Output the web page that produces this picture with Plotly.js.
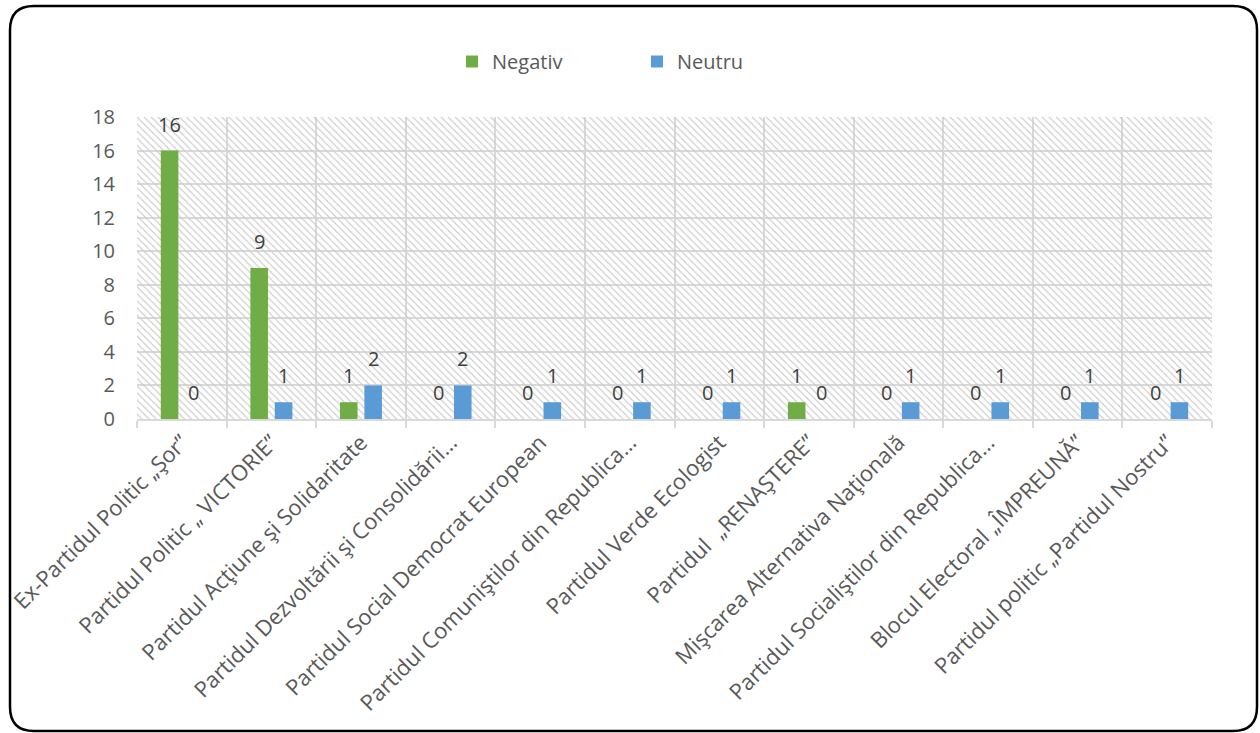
<!DOCTYPE html>
<html>
<head>
<meta charset="utf-8">
<script src="https://cdn.plot.ly/plotly-3.0.1.min.js"></script>
<style>
html,body{margin:0;padding:0;background:#fff;}
#chart{width:1260px;height:733px;}
</style>
</head>
<body>
<div id="chart"></div>
<script>
// ---- data ----
const categories = [
  "Ex-Partidul Politic „Şor”",
  "Partidul Politic „ VICTORIE”",
  "Partidul Acţiune şi Solidaritate",
  "Partidul Dezvoltării şi Consolidării…",
  "Partidul Social Democrat European",
  "Partidul Comuniştilor din Republica…",
  "Partidul Verde Ecologist",
  "Partidul  „RENAŞTERE”",
  "Mişcarea Alternativa Naţională",
  "Partidul Socialiştilor din Republica…",
  "Blocul Electoral „ÎMPREUNĂ”",
  "Partidul politic „Partidul Nostru”"
];
const negativ = [16, 9, 1, 0, 0, 0, 0, 1, 0, 0, 0, 0];
const neutru  = [0, 1, 2, 2, 1, 1, 1, 0, 1, 1, 1, 1];
const seriesNames = ["Negativ", "Neutru"];
const yTicks = [0, 2, 4, 6, 8, 10, 12, 14, 16, 18];

// ---- layout geometry ----
const W = 1260, H = 733;
const M = {l: 137, r: 48, t: 117, b: 314};
const pw = W - M.l - M.r, ph = H - M.t - M.b;
const px = x => (x - M.l) / pw;
const py = y => (H - M.b - y) / ph;

const GREEN = "#70AD47", BLUE = "#5B9BD5";
const TXT = "#595959", GRID = "#d9d9d9";

// hatch background (drawn on hidden base axes)
const hatch = {
  type: "bar", x: [0.5], y: [1], width: [1],
  xaxis: "x", yaxis: "y", showlegend: false, hoverinfo: "skip",
  marker: {color: "rgba(0,0,0,0)", line: {width: 0},
    pattern: {shape: "\\", fgcolor: "#cccccc", bgcolor: "rgba(0,0,0,0)", size: 5, solidity: 0.22}}
};

const tNeg = {type: "bar", name: seriesNames[0], x: categories, y: negativ,
  xaxis: "x2", yaxis: "y2", marker: {color: GREEN}, hoverinfo: "x+y"};
const tNeu = {type: "bar", name: seriesNames[1], x: categories, y: neutru,
  xaxis: "x2", yaxis: "y2", marker: {color: BLUE}, hoverinfo: "x+y"};

// data labels
const annotations = [];
const labelFont = {family: "Open Sans, sans-serif", size: 20, color: "#404040"};
categories.forEach((c, i) => {
  annotations.push({x: c, y: negativ[i], xref: "x2", yref: "y2", text: String(negativ[i]),
    showarrow: false, xshift: -12.2, yshift: 11, yanchor: "bottom", font: labelFont});
  annotations.push({x: c, y: neutru[i], xref: "x2", yref: "y2", text: String(neutru[i]),
    showarrow: false, xshift: 12.2, yshift: 11, yanchor: "bottom", font: labelFont});
});

// rounded outer frame
const fx0 = 10, fx1 = 1257, fy0 = 6, fy1 = 731, r = 24;
const P = (x, y) => px(x) + "," + py(y);
const framePath = "M" + P(fx0 + r, fy0) + " L" + P(fx1 - r, fy0) +
  " Q" + P(fx1, fy0) + " " + P(fx1, fy0 + r) +
  " L" + P(fx1, fy1 - r) + " Q" + P(fx1, fy1) + " " + P(fx1 - r, fy1) +
  " L" + P(fx0 + r, fy1) + " Q" + P(fx0, fy1) + " " + P(fx0, fy1 - r) +
  " L" + P(fx0, fy0 + r) + " Q" + P(fx0, fy0) + " " + P(fx0 + r, fy0) + " Z";

const layout = {
  width: W, height: H,
  margin: M,
  paper_bgcolor: "#fff", plot_bgcolor: "#fff",
  font: {family: "Open Sans, sans-serif", color: TXT},
  barmode: "group", bargap: 0.455, bargroupgap: 0.28,
  showlegend: true,
  legend: {orientation: "h", x: px(452), xanchor: "left", y: py(42), yanchor: "top",
    font: {size: 20, color: TXT}, entrywidth: 140, entrywidthmode: "pixels",
    bgcolor: "rgba(0,0,0,0)"},
  xaxis: {range: [0, 1], visible: false, fixedrange: true},
  yaxis: {range: [0, 1], visible: false, fixedrange: true},
  xaxis2: {overlaying: "x", type: "category", range: [-0.5, 11.5],
    tickson: "boundaries", ticks: "outside", ticklen: 7, tickcolor: GRID, tickwidth: 2,
    showgrid: true, gridcolor: GRID, gridwidth: 2,
    showline: true, linecolor: GRID, linewidth: 2,
    tickangle: -45, tickfont: {size: 22, color: TXT}, automargin: false},
  yaxis2: {overlaying: "y", range: [0, 18], tickvals: yTicks, ticks: "",
    showgrid: true, gridcolor: GRID, gridwidth: 2, zeroline: false,
    showline: false, ticklabelstandoff: 21,
    tickfont: {size: 20, color: TXT}, automargin: false},
  annotations: annotations,
  shapes: [{type: "path", xref: "paper", yref: "paper", path: framePath,
    line: {color: "#000", width: 2.5}, fillcolor: "rgba(0,0,0,0)", layer: "above"}]
};

Plotly.newPlot("chart", [hatch, tNeg, tNeu], layout, {displayModeBar: false, staticPlot: true});
</script>
</body>
</html>
